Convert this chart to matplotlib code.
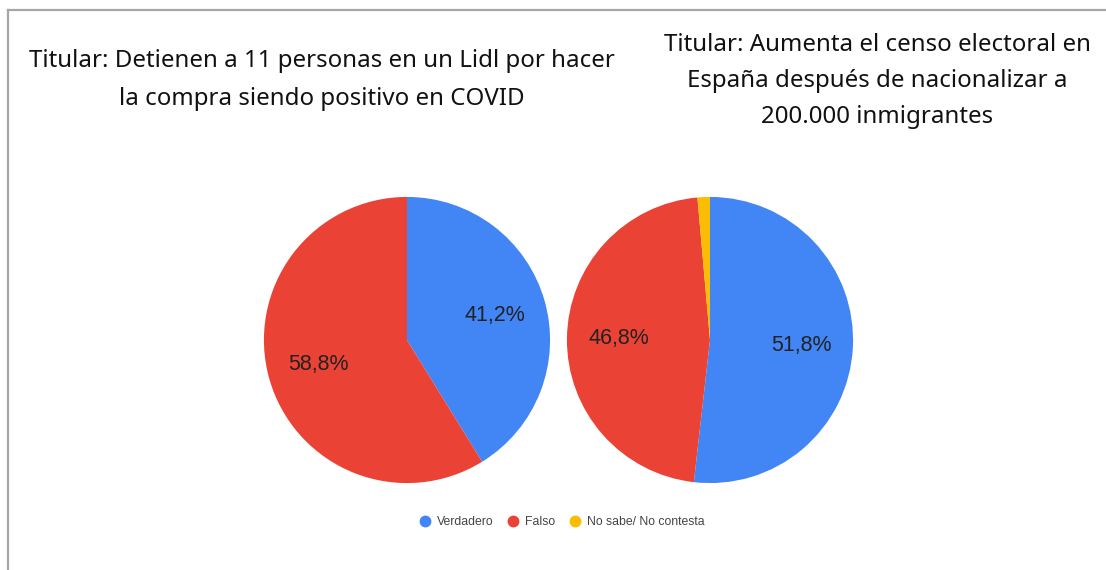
import matplotlib.pyplot as plt
from matplotlib.lines import Line2D

# Datos de las dos encuestas
categorias = ['Verdadero', 'Falso', 'No sabe/ No contesta']
colores = ['#4285F4', '#EA4335', '#FBBC04']

titular1 = 'Titular: Detienen a 11 personas en un Lidl por hacer\nla compra siendo positivo en COVID'
valores1 = [41.2, 58.8]

titular2 = 'Titular: Aumenta el censo electoral en\nEspaña después de nacionalizar a\n200.000 inmigrantes'
valores2 = [51.8, 46.8, 1.4]

W, H = 1106, 570
fig = plt.figure(figsize=(W / 100, H / 100), dpi=100)


def etiqueta(p):
    # Formato con coma decimal, sin etiqueta para porciones pequeñas
    return f'{p:.1f}%'.replace('.', ',') if p > 5 else ''


def dibujar_pie(cx, cy, r, valores):
    # cx, cy, r en píxeles (y medido desde arriba)
    ax = fig.add_axes([(cx - r) / W, (H - cy - r) / H, 2 * r / W, 2 * r / H])
    ax.pie(valores, colors=colores[:len(valores)], startangle=90, counterclock=False,
           autopct=etiqueta, pctdistance=0.64, radius=1,
           wedgeprops=dict(linewidth=0),
           textprops=dict(fontsize=15.5, color='#222222', family='Liberation Sans'))
    ax.set_xlim(-1.01, 1.01)
    ax.set_ylim(-1.01, 1.01)
    ax.set_aspect('equal')
    ax.axis('off')


dibujar_pie(407, 340, 144.5, valores1)
dibujar_pie(710, 340, 144.5, valores2)

# Titulares
fig.text(322 / W, 1 - 80 / H, titular1, ha='center', va='center', fontsize=17.3,
         family='Noto Sans', color='#111111', linespacing=1.78)
fig.text(877 / W, 1 - 81 / H, titular2, ha='center', va='center', fontsize=17.3,
         family='Noto Sans', color='#111111', linespacing=1.67)

# Leyenda
handles = [Line2D([], [], marker='o', linestyle='', markersize=7.5, color=c) for c in colores]
fig.legend(handles, categorias, loc='center', bbox_to_anchor=(561 / W, 1 - 522 / H),
           ncol=3, frameon=False, handletextpad=0.4, columnspacing=1.0, handlelength=1.2,
           prop=dict(family='Liberation Sans', size=8.8), labelcolor='#444444')

# Marco gris
fig.add_artist(Line2D([8 / W, 8 / W], [0, 1 - 10 / H], color='#a6a6a6', linewidth=1.6))
fig.add_artist(Line2D([8 / W, 1], [1 - 10 / H, 1 - 10 / H], color='#a6a6a6', linewidth=1.6))

fig.savefig('out.png', dpi=100)
